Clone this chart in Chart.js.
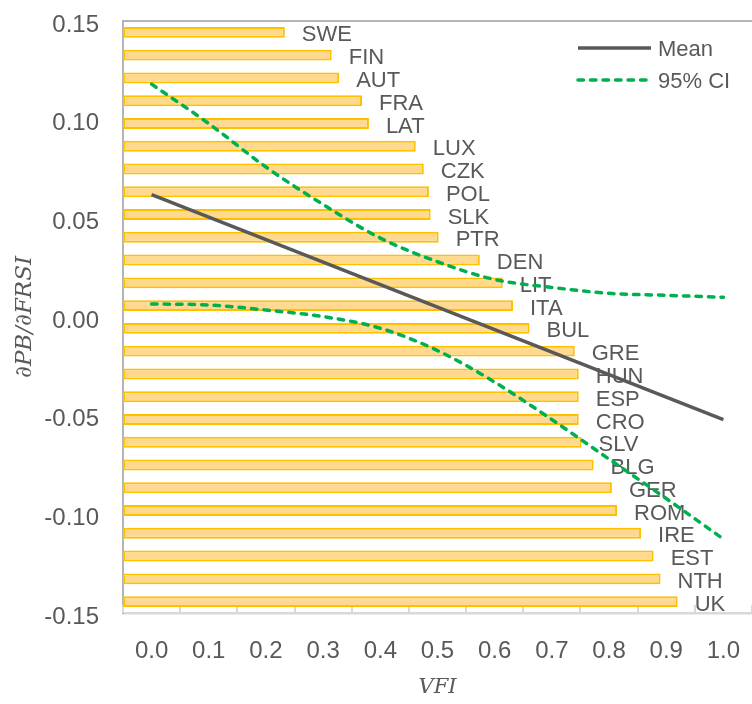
<!DOCTYPE html>
<html>
<head>
<meta charset="utf-8">
<script src="https://cdn.jsdelivr.net/npm/chart.js@4.4.1/dist/chart.umd.min.js"></script>
<style>
  html, body { margin: 0; padding: 0; background: #ffffff; }
  canvas { display: block; }
</style>
</head>
<body>
<canvas id="vfiChart" width="752" height="704"></canvas>
<script>
// countries, top to bottom, and the VFI value where each bar ends
const countries = ['SWE', 'FIN', 'AUT', 'FRA', 'LAT', 'LUX', 'CZK', 'POL', 'SLK', 'PTR', 'DEN', 'LIT', 'ITA',
    'BUL', 'GRE', 'HUN', 'ESP', 'CRO', 'SLV', 'BLG', 'GER', 'ROM', 'IRE', 'EST', 'NTH', 'UK'];
const vfiValues = [0.233, 0.315, 0.328, 0.368, 0.380, 0.462, 0.476, 0.485, 0.488, 0.502, 0.574, 0.614, 0.632,
    0.661, 0.740, 0.747, 0.747, 0.747, 0.752, 0.773, 0.805, 0.814, 0.856, 0.878, 0.890, 0.920];

// marginal effect (mean) and its 95% confidence band
const meanX = [0.0, 1.0];
const meanY = [0.062, -0.052];
const curveX = [0.0, 0.1, 0.2, 0.3, 0.4, 0.5, 0.6, 0.7, 0.8, 0.9, 1.0];
const ciUpper = [0.118, 0.098, 0.076, 0.057, 0.040, 0.028, 0.019, 0.015, 0.012, 0.011, 0.010];
const ciLower = [0.0066, 0.0061, 0.0035, 0.0002, -0.0057, -0.017, -0.033, -0.052, -0.072, -0.092, -0.1125];

const xMin = -0.05, xMax = 1.05;
const xTicks = [0.0, 0.1, 0.2, 0.3, 0.4, 0.5, 0.6, 0.7, 0.8, 0.9, 1.0];
const xTickMarks = [-0.05, 0.05, 0.15, 0.25, 0.35, 0.45, 0.55, 0.65, 0.75, 0.85, 0.95, 1.05];

const textGray = '#595959';
const sansFont = "'Liberation Sans', Arial, sans-serif";
const serifFont = "'DejaVu Serif', serif";

const toPoints = (xs, ys) => xs.map((x, i) => ({ x, y: ys[i] }));

// country names next to the bars (drawn before the lines, so lines sit on top)
const countryLabels = {
    id: 'countryLabels',
    afterDatasetDraw(chart, args) {
        if (args.index !== 3) return;
        const ctx = chart.ctx;
        ctx.save();
        ctx.font = '22px ' + sansFont;
        ctx.fillStyle = textGray;
        ctx.textAlign = 'left';
        ctx.textBaseline = 'middle';
        args.meta.data.forEach((bar, i) => {
            ctx.fillText(countries[i], bar.x + 17, bar.y + 3);
        });
        ctx.restore();
    }
};

// top frame line and the small inward tick marks of the x axis
const frame = {
    id: 'frame',
    beforeDatasetsDraw(chart) {
        const { ctx, chartArea } = chart;
        const xs = chart.scales.x;
        ctx.save();
        ctx.strokeStyle = '#b4b4b4';
        ctx.lineWidth = 2;
        ctx.beginPath();
        ctx.moveTo(chartArea.left, chartArea.top);
        ctx.lineTo(chartArea.right, chartArea.top);
        ctx.stroke();
        ctx.strokeStyle = '#d9d9d9';
        ctx.lineWidth = 2;
        ctx.beginPath();
        xTickMarks.forEach(v => {
            const px = Math.round(xs.getPixelForValue(v));
            ctx.moveTo(px, chartArea.bottom);
            ctx.lineTo(px, chartArea.bottom - 8);
        });
        ctx.stroke();
        ctx.restore();
    }
};

// legend box inside the plot, top right
const innerLegend = {
    id: 'innerLegend',
    afterDraw(chart) {
        const { ctx, chartArea } = chart;
        const x0 = chartArea.right - 174;
        const x1 = chartArea.right - 101;
        const rows = [
            { label: 'Mean', color: '#595959', dash: [], y: chartArea.top + 27 },
            { label: '95% CI', color: '#00b050', dash: [5.5, 7], y: chartArea.top + 59 }
        ];
        ctx.save();
        ctx.font = '22px ' + sansFont;
        ctx.textBaseline = 'middle';
        ctx.textAlign = 'left';
        rows.forEach(r => {
            ctx.strokeStyle = r.color;
            ctx.lineWidth = 3.5;
            ctx.lineCap = r.dash.length ? 'round' : 'butt';
            ctx.setLineDash(r.dash);
            ctx.beginPath();
            ctx.moveTo(x0, r.y);
            ctx.lineTo(x1, r.y);
            ctx.stroke();
            ctx.fillStyle = textGray;
            ctx.fillText(r.label, x1 + 7, r.y + 2);
        });
        ctx.restore();
    }
};

new Chart(document.getElementById('vfiChart'), {
    type: 'bar',
    data: {
        datasets: [
            {
                type: 'line', label: 'Mean', data: toPoints(meanX, meanY),
                borderColor: '#595959', borderWidth: 3.5, pointRadius: 0,
                xAxisID: 'x', yAxisID: 'y'
            },
            {
                type: 'line', label: '95% CI', data: toPoints(curveX, ciUpper),
                borderColor: '#00b050', borderWidth: 3.5, borderDash: [5.5, 7], borderCapStyle: 'round',
                cubicInterpolationMode: 'monotone', pointRadius: 0,
                xAxisID: 'x', yAxisID: 'y'
            },
            {
                type: 'line', label: '95% CI', data: toPoints(curveX, ciLower),
                borderColor: '#00b050', borderWidth: 3.5, borderDash: [5.5, 7], borderCapStyle: 'round',
                cubicInterpolationMode: 'monotone', pointRadius: 0,
                xAxisID: 'x', yAxisID: 'y'
            },
            {
                // bars run from the left edge of the plot to each country's VFI
                type: 'bar', label: 'VFI', data: vfiValues.map(v => [xMin, v]),
                indexAxis: 'y', xAxisID: 'x', yAxisID: 'yb',
                backgroundColor: '#ffd98f', borderColor: '#ffc000', borderWidth: 2, borderSkipped: false,
                barPercentage: 0.48, categoryPercentage: 1
            }
        ]
    },
    options: {
        responsive: false,
        animation: false,
        layout: { padding: { top: 21, right: 0, left: 0, bottom: 0 } },
        plugins: {
            legend: { display: false },
            tooltip: { enabled: false }
        },
        scales: {
            x: {
                type: 'linear', position: 'bottom', min: xMin, max: xMax, bounds: 'data', offset: false,
                afterBuildTicks: scale => { scale.ticks = xTicks.map(v => ({ value: v })); },
                afterFit: scale => { scale.height = 91; },
                grid: { display: false, drawTicks: true, tickLength: 24, offset: false },
                border: { display: true, color: '#d9d9d9', width: 2.5 },
                ticks: {
                    color: textGray, font: { family: sansFont, size: 24 }, padding: 0,
                    maxRotation: 0, autoSkip: false, includeBounds: false,
                    callback: v => Number(v).toFixed(1)
                },
                title: {
                    display: true, text: 'VFI', color: textGray,
                    font: { family: serifFont, size: 21, style: 'italic' },
                    padding: { top: 0, bottom: 4 }
                }
            },
            y: {
                type: 'linear', position: 'left', min: -0.15, max: 0.15, offset: false,
                afterFit: scale => { scale.width = 123; },
                grid: { display: false, drawTicks: true, tickLength: 24 },
                border: { display: true, color: '#b4b4b4', width: 2 },
                ticks: {
                    stepSize: 0.05, color: textGray, font: { family: sansFont, size: 24 },
                    padding: 0, labelOffset: 4,
                    callback: v => (Math.abs(v) < 1e-9 ? 0 : v).toFixed(2)
                },
                title: {
                    display: true, text: '∂PB/∂FRSI', color: textGray,
                    font: { family: serifFont, size: 23, style: 'italic' },
                    padding: { top: 11, bottom: 0 }
                }
            },
            yb: {
                type: 'category', labels: countries, display: false, offset: true
            }
        }
    },
    plugins: [frame, countryLabels, innerLegend]
});
</script>
</body>
</html>
